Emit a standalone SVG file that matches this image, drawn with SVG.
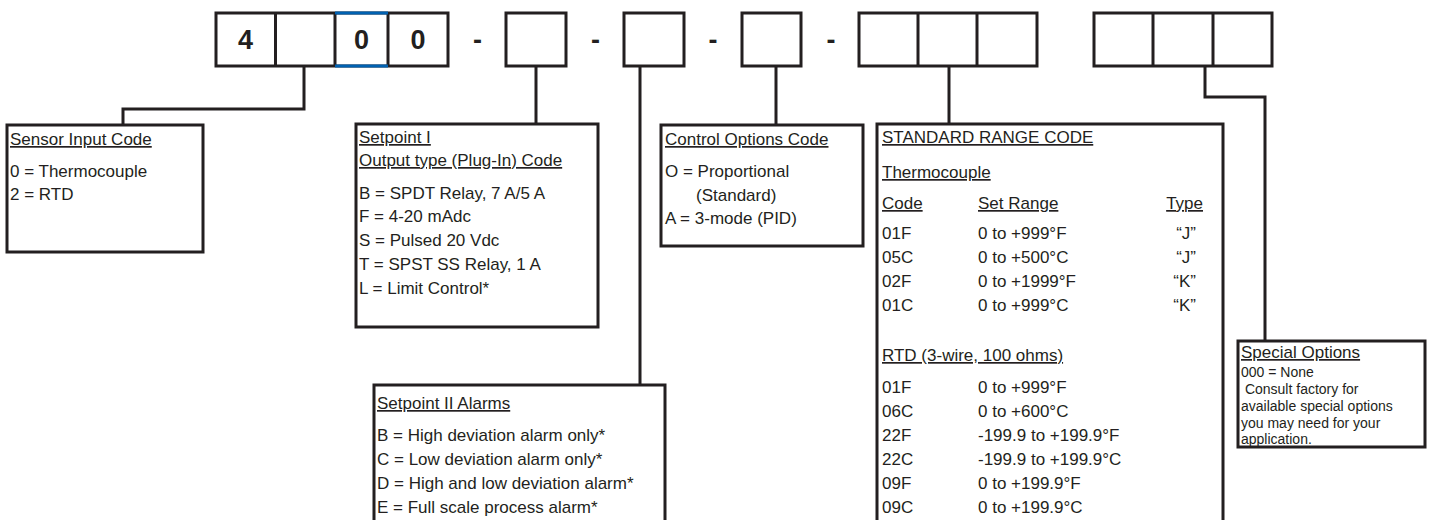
<svg xmlns="http://www.w3.org/2000/svg" width="1429" height="520" viewBox="0 0 1429 520">
<style>
text{font-family:"Liberation Sans",Arial,sans-serif;fill:#231f20;font-size:17px}
.u{text-decoration:underline}
.big{font-size:27px;font-weight:bold;text-anchor:middle}
.dash{font-size:27px;font-weight:bold;text-anchor:middle}
.box{fill:#fff;stroke:#231f20;stroke-width:3}
.cell{fill:none;stroke:#231f20;stroke-width:3}
.con{fill:none;stroke:#231f20;stroke-width:3}
.sm{font-size:14px}
</style>
<rect width="1429" height="520" fill="#fff"/>
<g id="code">
<rect class="cell" x="216" y="13" width="232" height="53"/>
<line class="cell" x1="275.5" y1="13" x2="275.5" y2="66"/>
<line class="cell" x1="335" y1="13" x2="335" y2="66"/>
<line class="cell" x1="388" y1="13" x2="388" y2="66"/>
<line x1="335" y1="13" x2="388" y2="13" stroke="#0061b1" stroke-width="3"/>
<line x1="335" y1="66" x2="388" y2="66" stroke="#0061b1" stroke-width="3"/>
<text class="big" x="245.5" y="49">4</text>
<text class="big" x="361.5" y="49">0</text>
<text class="big" x="418" y="49">0</text>
<text class="dash" x="477.5" y="49">-</text>
<rect class="cell" x="506" y="13" width="60" height="53"/>
<text class="dash" x="595.5" y="49">-</text>
<rect class="cell" x="624" y="13" width="60" height="53"/>
<text class="dash" x="713" y="49">-</text>
<rect class="cell" x="742" y="13" width="59" height="53"/>
<text class="dash" x="831" y="49">-</text>
<rect class="cell" x="859" y="13" width="178" height="53"/>
<line class="cell" x1="918" y1="13" x2="918" y2="66"/>
<line class="cell" x1="977" y1="13" x2="977" y2="66"/>
<rect class="cell" x="1094" y="13" width="178" height="53"/>
<line class="cell" x1="1153" y1="13" x2="1153" y2="66"/>
<line class="cell" x1="1213" y1="13" x2="1213" y2="66"/>
</g>
<g id="connectors">
<path class="con" d="M304,66V109H123V125"/>
<path class="con" d="M536,66V124"/>
<path class="con" d="M640,66V385"/>
<path class="con" d="M776,66V125"/>
<path class="con" d="M949,66V124"/>
<path class="con" d="M1205,66V97H1265V341"/>
</g>
<g id="sensor">
<rect class="box" x="7" y="125" width="196" height="127"/>
<text class="u" x="10" y="145">Sensor Input Code</text>
<text x="10" y="177">0 = Thermocouple</text>
<text x="10" y="200">2 = RTD</text>
</g>
<g id="setpoint1">
<rect class="box" x="356" y="124" width="242" height="203"/>
<text class="u" x="359" y="143">Setpoint I</text>
<text class="u" x="359" y="166">Output type (Plug-In) Code</text>
<text x="359" y="199">B = SPDT Relay, 7 A/5 A</text>
<text x="359" y="222">F = 4-20 mAdc</text>
<text x="359" y="246">S = Pulsed 20 Vdc</text>
<text x="359" y="270">T = SPST SS Relay, 1 A</text>
<text x="359" y="294">L = Limit Control*</text>
</g>
<g id="setpoint2">
<rect class="box" x="374" y="385" width="291" height="140"/>
<text class="u" x="377" y="409">Setpoint II Alarms</text>
<text x="377" y="441">B = High deviation alarm only*</text>
<text x="377" y="465">C = Low deviation alarm only*</text>
<text x="377" y="489">D = High and low deviation alarm*</text>
<text x="377" y="513">E = Full scale process alarm*</text>
</g>
<g id="control">
<rect class="box" x="661" y="125" width="202" height="121"/>
<text class="u" x="665" y="145">Control Options Code</text>
<text x="665" y="177">O = Proportional</text>
<text x="696" y="201">(Standard)</text>
<text x="665" y="224">A = 3-mode (PID)</text>
</g>
<g id="range">
<rect class="box" x="877" y="124" width="346" height="400"/>
<text class="u" x="882" y="143">STANDARD RANGE CODE</text>
<text class="u" x="882" y="178">Thermocouple</text>
<text class="u" x="882" y="209">Code</text>
<text class="u" x="978" y="209">Set Range</text>
<text class="u" x="1203" y="209" text-anchor="end">Type</text>
<text x="882" y="239">01F</text><text x="978" y="239">0 to +999°F</text><text x="1196" y="239" text-anchor="end">“J”</text>
<text x="882" y="263">05C</text><text x="978" y="263">0 to +500°C</text><text x="1196" y="263" text-anchor="end">“J”</text>
<text x="882" y="287">02F</text><text x="978" y="287">0 to +1999°F</text><text x="1196" y="287" text-anchor="end">“K”</text>
<text x="882" y="311">01C</text><text x="978" y="311">0 to +999°C</text><text x="1196" y="311" text-anchor="end">“K”</text>
<text class="u" x="882" y="361">RTD (3-wire, 100 ohms)</text>
<text x="882" y="393">01F</text><text x="978" y="393">0 to +999°F</text>
<text x="882" y="417">06C</text><text x="978" y="417">0 to +600°C</text>
<text x="882" y="441">22F</text><text x="978" y="441">-199.9 to +199.9°F</text>
<text x="882" y="465">22C</text><text x="978" y="465">-199.9 to +199.9°C</text>
<text x="882" y="489">09F</text><text x="978" y="489">0 to +199.9°F</text>
<text x="882" y="513">09C</text><text x="978" y="513">0 to +199.9°C</text>
</g>
<g id="special">
<rect class="box" x="1238" y="341" width="187" height="106"/>
<text class="u" x="1241" y="358">Special Options</text>
<text class="sm" x="1241" y="377">000 = None</text>
<text class="sm" x="1241" y="394" xml:space="preserve"> Consult factory for</text>
<text class="sm" x="1241" y="411">available special options</text>
<text class="sm" x="1241" y="428">you may need for your</text>
<text class="sm" x="1241" y="444">application.</text>
</g>
</svg>
